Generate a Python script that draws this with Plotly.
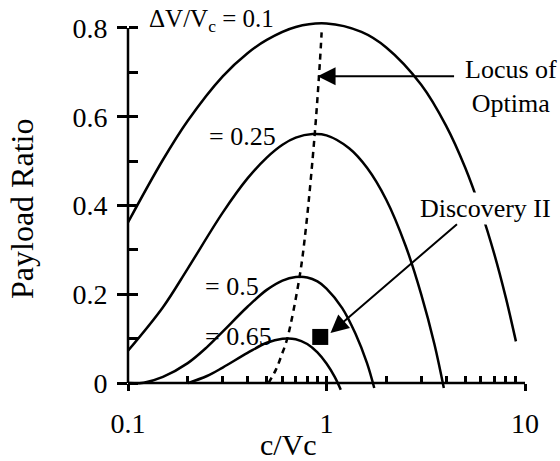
import plotly.graph_objects as go

# payload ratio curves (x = c/Vc, y = payload ratio)
x_01 = [0.1, 0.15, 0.2, 0.3, 0.4, 0.5, 0.7, 1.0, 1.5, 2, 3, 4, 5, 6, 7, 8, 9]
y_01 = [0.362, 0.503, 0.591, 0.691, 0.743, 0.773, 0.802, 0.810, 0.791, 0.756,
        0.672, 0.580, 0.485, 0.388, 0.291, 0.193, 0.094]

x_025 = [0.1, 0.15, 0.2, 0.3, 0.4, 0.5, 0.6, 0.7, 0.85, 1.0, 1.3, 1.6, 2, 2.5, 3, 3.5, 3.9]
y_025 = [0.073, 0.171, 0.258, 0.384, 0.461, 0.508, 0.537, 0.553, 0.561, 0.558,
         0.529, 0.485, 0.413, 0.310, 0.200, 0.087, -0.011]

x_05 = [0.1, 0.12, 0.15, 0.2, 0.25, 0.3, 0.4, 0.5, 0.6, 0.7, 0.8, 0.9, 1.0, 1.2, 1.4, 1.6, 1.74]
y_05 = [0.0, 0.001, 0.014, 0.045, 0.081, 0.116, 0.172, 0.210, 0.231, 0.239,
        0.238, 0.229, 0.213, 0.169, 0.111, 0.045, -0.011]

x_065 = [0.2, 0.25, 0.3, 0.4, 0.5, 0.6, 0.7, 0.8, 0.9, 1.0, 1.1, 1.18]
y_065 = [0.0, 0.016, 0.035, 0.068, 0.091, 0.100, 0.099, 0.088, 0.069, 0.044, 0.014, -0.015]

# locus of optima (dotted)
x_loc = [0.51, 0.557, 0.595, 0.635, 0.732, 0.79, 0.8725, 0.926, 0.945]
y_loc = [0.0, 0.031, 0.064, 0.101, 0.240, 0.355, 0.561, 0.722, 0.79]

# Discovery II design point
x_disc = [0.93]
y_disc = [0.104]

x_major = [0.1, 1, 10]
x_all = [0.1, 0.2, 0.3, 0.4, 0.5, 0.6, 0.7, 0.8, 0.9,
         1, 2, 3, 4, 5, 6, 7, 8, 9, 10]
x_ticktext = ['0.1', '1', '10']
y_major = [0, 0.2, 0.4, 0.6, 0.8]
y_all = [0, 0.1, 0.2, 0.3, 0.4, 0.5, 0.6, 0.7, 0.8]
y_ticktext = ['0', '0.2', '0.4', '0.6', '0.8']

FONT = 'Liberation Serif, Times New Roman, serif'
LW = 2.5

fig = go.Figure()
for xs, ys in [(x_01, y_01), (x_025, y_025), (x_05, y_05), (x_065, y_065)]:
    fig.add_trace(go.Scatter(x=xs, y=ys, mode='lines', line=dict(color='black', width=LW, shape='spline'),
                             showlegend=False, hoverinfo='skip'))
fig.add_trace(go.Scatter(x=x_loc, y=y_loc, mode='lines',
                         line=dict(color='black', width=2.5, dash='6px,5px', shape='spline'),
                         showlegend=False, hoverinfo='skip'))
fig.add_trace(go.Scatter(x=x_disc, y=y_disc, mode='markers',
                         marker=dict(symbol='square', size=16, color='black'),
                         showlegend=False, hoverinfo='skip'))
# empty trace so the overlay (inward tick) axes are drawn
fig.add_trace(go.Scatter(x=[], y=[], xaxis='x2', yaxis='y2', showlegend=False))

yr = [-0.02, 0.82]
xpos = 0.02 / 0.84

fig.update_layout(
    width=560, height=461,
    margin=dict(l=128, r=35, t=19, b=69),
    paper_bgcolor='white', plot_bgcolor='white',
    font=dict(family=FONT, color='black', size=26),
    xaxis=dict(type='log', range=[-1, 1], anchor='free', position=xpos,
               tickvals=x_major, ticktext=x_ticktext, ticks='outside', ticklen=7,
               tickwidth=LW, tickcolor='black', showgrid=False, zeroline=False,
               showline=False, tickfont=dict(size=28), ticklabelstandoff=8),
    xaxis2=dict(type='log', range=[-1, 1], overlaying='x', anchor='free', position=xpos,
                tickvals=x_all, ticks='inside', ticklen=7, tickwidth=LW, tickcolor='black',
                showticklabels=False, showgrid=False, zeroline=False, showline=False),
    yaxis=dict(range=yr, tickvals=y_major, ticktext=y_ticktext, ticks='outside', ticklen=10,
               tickwidth=LW, tickcolor='black', showgrid=False, zeroline=False,
               showline=False, tickfont=dict(size=28), ticklabelstandoff=4),
    yaxis2=dict(range=yr, overlaying='y', anchor='free', position=0, side='left',
                tickvals=y_all, ticks='inside', ticklen=9, tickwidth=LW, tickcolor='black',
                showticklabels=False, showgrid=False, zeroline=False, showline=False),
)

# axis lines: y only up to 0.8, x along y = 0
fig.add_shape(type='line', xref='paper', yref='y', x0=0, x1=0, y0=0, y1=0.8,
              line=dict(color='black', width=LW))
fig.add_shape(type='line', xref='paper', yref='y', x0=0, x1=1, y0=0, y1=0,
              line=dict(color='black', width=LW))

def px_x(p):
    return (p - 128) / 397

def px_y(p):
    return (392 - p) / 373

labels = [
    ('ΔV/V<sub>c</sub> = 0.1', 147, 20, 'left', 25),
    ('= 0.25', 207, 136, 'left', 26),
    ('= 0.5', 203, 286, 'left', 26),
    ('= 0.65', 203, 336, 'left', 26),
    ('Locus of<br>Optima', 511, 86, 'center', 26),
]
for txt, px, py, anc, fs in labels:
    fig.add_annotation(text=txt, xref='paper', yref='paper', x=px_x(px), y=px_y(py),
                       xanchor=anc, yanchor='middle', showarrow=False, font=dict(size=fs))

fig.add_annotation(text='Discovery II', xref='paper', yref='paper', x=px_x(485), y=px_y(208),
                   xanchor='center', yanchor='middle', showarrow=False, bgcolor='white',
                   font=dict(size=26))

# axis titles
fig.add_annotation(text='Payload Ratio', xref='paper', yref='paper', x=px_x(22), y=px_y(209),
                   xanchor='center', yanchor='middle', textangle=-90, showarrow=False,
                   font=dict(size=32))
fig.add_annotation(text='c/Vc', xref='paper', yref='paper', x=px_x(288), y=px_y(444),
                   xanchor='center', yanchor='middle', showarrow=False, font=dict(size=30))

# arrows
fig.add_annotation(text='', xref='x', yref='y', x=-0.045, y=0.691, ax=138, ay=0,
                   showarrow=True, arrowhead=2, arrowsize=1.8, arrowwidth=2, arrowcolor='black')
fig.add_annotation(text='', xref='x', yref='y', x=0.02, y=0.113, ax=128, ay=-110,
                   showarrow=True, arrowhead=2, arrowsize=1.8, arrowwidth=2, arrowcolor='black')

fig.write_html('out.html', config={'displayModeBar': False},
               post_script="document.body.style.margin='0';")
